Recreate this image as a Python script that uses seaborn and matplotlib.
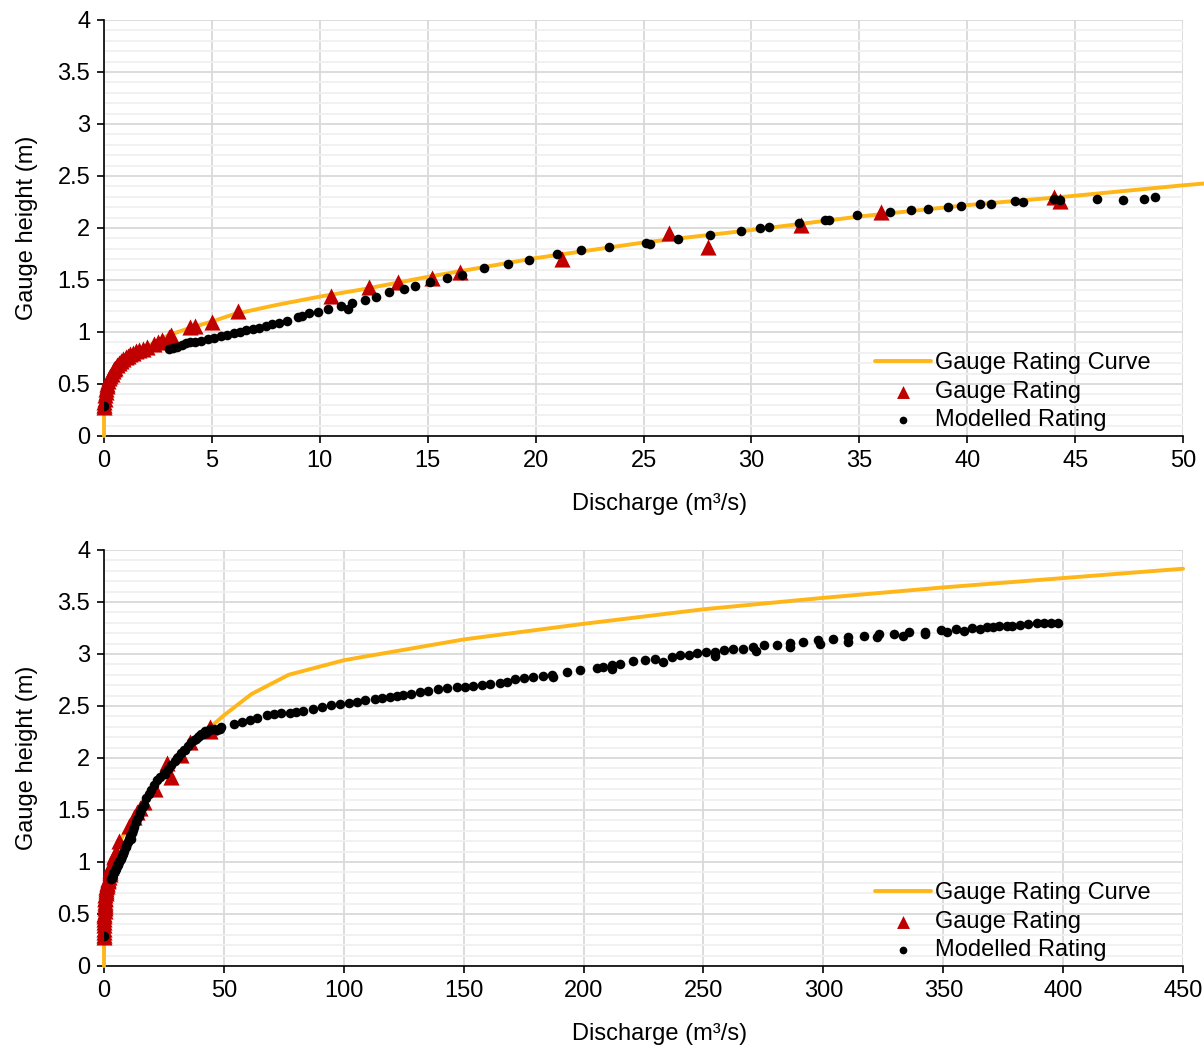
import numpy as np
import pandas as pd
import matplotlib
matplotlib.use('Agg')
import matplotlib.pyplot as plt
import seaborn as sns
from matplotlib.ticker import MultipleLocator

sns.set_style('white')
plt.rcParams['font.family'] = ['Liberation Sans', 'DejaVu Sans']
plt.rcParams['font.size'] = 17
plt.rcParams['text.color'] = 'black'
plt.rcParams['axes.labelcolor'] = 'black'
plt.rcParams['xtick.color'] = 'black'
plt.rcParams['ytick.color'] = 'black'

# Gauge rating curve (line)
curve_q = [0, 0, 0.05, 0.1, 0.2, 0.4, 0.7, 1.0, 1.5, 2.0, 3.0, 4.0, 5.0, 6.0, 8.0,
           10, 12, 15, 20, 25, 30, 35, 40, 44.5, 50, 61.5, 77, 100, 150, 200, 250,
           300, 350, 400, 450]
curve_h = [0, 0.3, 0.36, 0.42, 0.49, 0.57, 0.66, 0.73, 0.8, 0.86, 0.97, 1.04, 1.1,
           1.17, 1.26, 1.34, 1.41, 1.53, 1.71, 1.86, 1.98, 2.11, 2.22, 2.3, 2.41,
           2.615, 2.8, 2.94, 3.14, 3.29, 3.43, 3.54, 3.64, 3.73, 3.82]

# Gauge rating (triangles)
gauge_q = [0.0, 0.0, 0.02, 0.04, 0.06, 0.08, 0.1, 0.13, 0.16, 0.2, 0.25, 0.3, 0.35,
           0.4, 0.45, 0.5, 0.6, 0.7, 0.8, 0.9, 1.0, 1.1, 1.2, 1.35, 1.5, 1.6, 1.8,
           2.0, 2.3, 2.5, 2.7, 3.0, 3.1, 4.0, 4.2, 5.0, 6.2, 10.5, 12.3, 13.6, 15.2,
           16.5, 21.2, 26.2, 28.0, 32.3, 36.0, 44.0, 44.3]
gauge_h = [0.28, 0.3, 0.33, 0.36, 0.39, 0.42, 0.45, 0.48, 0.5, 0.53, 0.56, 0.58, 0.6,
           0.62, 0.64, 0.65, 0.68, 0.7, 0.72, 0.74, 0.76, 0.77, 0.79, 0.8, 0.82, 0.83,
           0.84, 0.86, 0.88, 0.9, 0.92, 0.95, 0.97, 1.05, 1.06, 1.1, 1.2, 1.35, 1.43,
           1.48, 1.52, 1.58, 1.7, 1.95, 1.82, 2.03, 2.15, 2.3, 2.26]

# Modelled rating (dots)
model_q = [0.0, 3.0, 3.2, 3.4, 3.6, 3.8, 4.0, 4.2, 4.5, 4.8, 5.1, 5.4, 5.7, 6.0, 6.3,
           6.6, 6.9, 7.2, 7.5, 7.8, 8.1, 8.5, 9.0, 9.16, 9.5, 9.9, 10.4, 11.0, 11.3,
           11.5, 12.1, 12.6, 13.2, 13.9, 14.4, 15.1, 15.9, 16.6, 17.6, 18.7, 19.7,
           21.0, 22.1, 23.4, 25.1, 25.3, 26.6, 28.1, 29.5, 30.4, 30.8, 32.2, 33.4,
           33.6, 34.9, 36.4, 37.4, 38.2, 39.1, 39.7, 40.6, 41.1, 42.2, 42.6, 44.0,
           44.3, 46.0, 47.2, 48.2, 48.7, 54, 57.5, 60.9, 64, 67.8, 71, 74, 77.6, 80,
           83.1, 87, 90.7, 94.5, 98.4, 102, 105.4, 109, 113, 116, 119.2, 122, 124.8,
           128, 131.8, 135, 139.4, 143, 147, 150.5, 154, 157.5, 161, 165.1, 168,
           171.4, 175, 179, 183, 186.7, 187.3, 192.9, 198.5, 205.4, 208, 211.7, 211.7,
           215, 220.7, 225.6, 229.8, 233.2, 236.7, 240.2, 243.8, 247.5, 251, 254.8,
           254.8, 258.7, 262.4, 266.6, 270.8, 272.1, 275.2, 280.5, 286.1, 286.1,
           291.6, 297.9, 298.6, 303.9, 310.4, 310.4, 316.9, 322.2, 323.3, 329.6, 333,
           335.8, 342.4, 342.4, 348.9, 351.4, 355.3, 358.7, 361.8, 365.3, 368.1,
           370.9, 373.4, 376.4, 378.5, 382, 385.5, 388.9, 392, 395, 398]
model_h = [0.29, 0.835, 0.845, 0.86, 0.875, 0.89, 0.9, 0.905, 0.915, 0.93, 0.945,
           0.96, 0.975, 0.99, 1.0, 1.015, 1.03, 1.04, 1.055, 1.075, 1.09, 1.11, 1.145,
           1.157, 1.18, 1.195, 1.22, 1.25, 1.22, 1.28, 1.31, 1.34, 1.38, 1.41, 1.445,
           1.48, 1.52, 1.55, 1.615, 1.65, 1.695, 1.745, 1.785, 1.82, 1.86, 1.85, 1.89,
           1.935, 1.975, 2.0, 2.01, 2.05, 2.08, 2.08, 2.12, 2.155, 2.17, 2.185, 2.205,
           2.21, 2.235, 2.23, 2.255, 2.245, 2.275, 2.27, 2.28, 2.265, 2.275, 2.295,
           2.33, 2.35, 2.365, 2.38, 2.41, 2.42, 2.43, 2.435, 2.445, 2.455, 2.47, 2.49,
           2.505, 2.52, 2.53, 2.54, 2.555, 2.57, 2.58, 2.59, 2.6, 2.61, 2.62, 2.635,
           2.645, 2.66, 2.67, 2.68, 2.685, 2.69, 2.7, 2.71, 2.725, 2.735, 2.755, 2.765,
           2.775, 2.785, 2.8, 2.775, 2.83, 2.845, 2.87, 2.875, 2.89, 2.855, 2.905,
           2.93, 2.94, 2.955, 2.92, 2.975, 2.99, 2.995, 3.005, 3.02, 2.985, 3.02, 3.04,
           3.05, 3.05, 3.07, 3.03, 3.085, 3.09, 3.11, 3.07, 3.12, 3.13, 3.1, 3.145,
           3.16, 3.12, 3.17, 3.16, 3.19, 3.19, 3.175, 3.21, 3.21, 3.19, 3.23, 3.215,
           3.24, 3.225, 3.25, 3.24, 3.255, 3.255, 3.27, 3.27, 3.27, 3.28, 3.29, 3.295,
           3.295, 3.3, 3.3]

curve_df = pd.DataFrame({'q': curve_q, 'h': curve_h})
gauge_df = pd.DataFrame({'q': gauge_q, 'h': gauge_h})
model_df = pd.DataFrame({'q': model_q, 'h': model_h})

orange = '#FFB619'
red = '#C00000'

fig = plt.figure(figsize=(12.04, 10.5), dpi=100)
ax_top = fig.add_axes([0.0864, 0.5848, 0.8962, 0.3962])
ax_bot = fig.add_axes([0.0864, 0.0800, 0.8962, 0.3962])

for ax, xmax, xstep in [(ax_top, 50, 5), (ax_bot, 450, 50)]:
    sns.lineplot(data=curve_df, x='q', y='h', ax=ax, color=orange, linewidth=2.8,
                 sort=False, estimator=None, label='Gauge Rating Curve', zorder=3,
                 clip_on=False)
    sns.scatterplot(data=gauge_df, x='q', y='h', ax=ax, marker='^', color=red,
                    s=135, linewidth=0, label='Gauge Rating', zorder=4, clip_on=False)
    sns.scatterplot(data=model_df, x='q', y='h', ax=ax, marker='o', color='black',
                    s=48, linewidth=0, label='Modelled Rating', zorder=5)

    ax.set_xlim(0, xmax)
    ax.set_ylim(0, 4)
    ax.xaxis.set_major_locator(MultipleLocator(xstep))
    ax.yaxis.set_minor_locator(MultipleLocator(0.1))
    ax.set_yticks([0, 0.5, 1, 1.5, 2, 2.5, 3, 3.5, 4])
    ax.set_yticklabels(['0', '0.5', '1', '1.5', '2', '2.5', '3', '3.5', '4'])

    ax.grid(which='major', axis='both', color='#D9D9D9', linewidth=1.3, zorder=0)
    ax.grid(which='minor', axis='y', color='#F0F0F0', linewidth=1.3, zorder=0)
    ax.set_axisbelow(True)
    ax.tick_params(which='major', direction='out', length=5, width=1.2,
                   color='black', labelsize=17, pad=5, left=True, bottom=True)
    ax.tick_params(which='minor', length=0)
    for side in ['top', 'right']:
        ax.spines[side].set_visible(False)
    for side in ['left', 'bottom']:
        ax.spines[side].set_color('black')
        ax.spines[side].set_linewidth(1.2)

    ax.set_xlabel('Discharge (m\u00b3/s)', fontsize=17)
    ax.xaxis.set_label_coords(0.515, -0.138)
    ax.set_ylabel('Gauge height (m)', fontsize=17, labelpad=14)
    ax.legend(loc='lower right', bbox_to_anchor=(0.99, -0.04), frameon=False,
              fontsize=17, handlelength=2.35, handletextpad=0.2, labelspacing=0.28,
              markerscale=0.8)

plt.savefig('out.png', dpi=100, facecolor='white')
plt.close()
